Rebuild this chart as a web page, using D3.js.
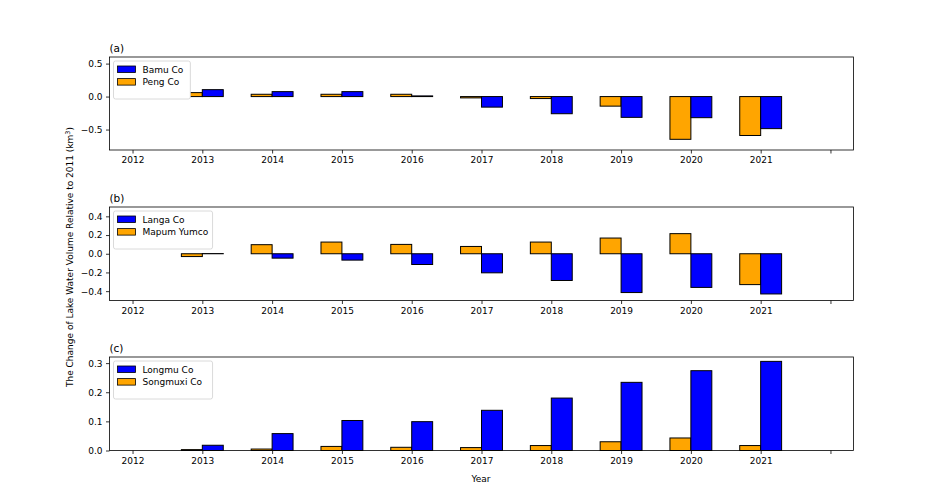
<!DOCTYPE html>
<html>
<head>
<meta charset="utf-8">
<script src="https://cdn.jsdelivr.net/npm/d3@7"></script>
<style>
  body { margin: 0; background: #fff; }
  text { font-family: "DejaVu Sans", sans-serif; }
</style>
</head>
<body>
<svg id="chart" width="927" height="494"></svg>
<script>
var years = [2013, 2014, 2015, 2016, 2017, 2018, 2019, 2020, 2021];
var tickYears = [2012, 2013, 2014, 2015, 2016, 2017, 2018, 2019, 2020, 2021, 2022];
var tickLabels = ['2012', '2013', '2014', '2015', '2016', '2017', '2018', '2019', '2020', '2021', ''];

// (a)
var bamuCo = [0.105, 0.075, 0.075, 0.01, -0.16, -0.26, -0.315, -0.32, -0.486];
var pengCo = [0.06, 0.035, 0.035, 0.035, -0.02, -0.03, -0.145, -0.648, -0.59];
// (b)
var langaCo = [0.002, -0.047, -0.068, -0.115, -0.204, -0.286, -0.415, -0.36, -0.43];
var mapumYumco = [-0.03, 0.097, 0.125, 0.1, 0.078, 0.125, 0.168, 0.215, -0.33];
// (c)
var longmuCo = [0.018, 0.058, 0.103, 0.099, 0.138, 0.18, 0.234, 0.274, 0.306];
var songmuxiCo = [0.003, 0.005, 0.014, 0.011, 0.01, 0.017, 0.03, 0.043, 0.017];

var panels = [
  { label: '(a)', top: 57, bottom: 150, domain: [-0.81, 0.6], ticks: [-0.5, 0, 0.5],
    blue: bamuCo, orange: pengCo, blueName: 'Bamu Co', orangeName: 'Peng Co' },
  { label: '(b)', top: 207, bottom: 300.5, domain: [-0.5, 0.5], ticks: [-0.4, -0.2, 0, 0.2, 0.4],
    blue: langaCo, orange: mapumYumco, blueName: 'Langa Co', orangeName: 'Mapum Yumco' },
  { label: '(c)', top: 357, bottom: 450.5, domain: [0, 0.321], ticks: [0, 0.1, 0.2, 0.3],
    blue: longmuCo, orange: songmuxiCo, blueName: 'Longmu Co', orangeName: 'Songmuxi Co' }
];

var svg = d3.select('#chart');
var left = 109.5, right = 853.5;
var barW = 0.3;
var fs = 9;

var x = d3.scaleLinear().domain([2011.67, 2022.33]).range([left, right]);

panels.forEach(function(p) {
  var y = d3.scaleLinear().domain(p.domain).range([p.bottom, p.top]);
  var g = svg.append('g');

  // orange bars (left of tick)
  g.selectAll('rect.orange')
    .data(p.orange)
    .enter().append('rect')
      .attr('x', function(d, i) { return x(years[i] - barW); })
      .attr('width', x(barW) - x(0))
      .attr('y', function(d) { return Math.min(y(d), y(0)); })
      .attr('height', function(d) { return Math.abs(y(d) - y(0)); })
      .attr('fill', 'orange')
      .attr('stroke', '#000')
      .attr('stroke-width', 1);

  // blue bars (right of tick)
  g.selectAll('rect.blue')
    .data(p.blue)
    .enter().append('rect')
      .attr('x', function(d, i) { return x(years[i]); })
      .attr('width', x(barW) - x(0))
      .attr('y', function(d) { return Math.min(y(d), y(0)); })
      .attr('height', function(d) { return Math.abs(y(d) - y(0)); })
      .attr('fill', 'blue')
      .attr('stroke', '#000')
      .attr('stroke-width', 1);

  // frame
  g.append('rect')
    .attr('x', left).attr('y', p.top)
    .attr('width', right - left).attr('height', p.bottom - p.top)
    .attr('fill', 'none').attr('stroke', '#000').attr('stroke-width', 0.8);

  // x axis
  var xAxis = d3.axisBottom(x)
    .tickValues(tickYears)
    .tickFormat(function(d, i) { return tickLabels[i]; })
    .tickSize(3.5).tickPadding(3.5);
  var xg = g.append('g').attr('transform', 'translate(0,' + p.bottom + ')').call(xAxis);
  xg.select('.domain').remove();
  xg.selectAll('text').attr('font-size', fs).attr('font-family', 'DejaVu Sans').attr('fill', '#000');
  xg.selectAll('line').attr('stroke-width', 0.8);

  // y axis
  var yAxis = d3.axisLeft(y).tickValues(p.ticks).tickFormat(d3.format('.1f'))
    .tickSize(3.5).tickPadding(3.5);
  var yg = g.append('g').attr('transform', 'translate(' + left + ',0)').call(yAxis);
  yg.select('.domain').remove();
  yg.selectAll('text').attr('font-size', fs).attr('font-family', 'DejaVu Sans').attr('fill', '#000');
  yg.selectAll('line').attr('stroke-width', 0.8);

  // panel label
  g.append('text').attr('x', left).attr('y', p.top - 5)
    .attr('font-size', 10.5).text(p.label);

  // legend
  var lg = g.append('g').attr('transform', 'translate(' + (left + 4) + ',' + (p.top + 4) + ')');
  var names = [p.blueName, p.orangeName];
  var cols = ['blue', 'orange'];
  var lw = d3.max(names, function(n) { return n.length; }) * 5.55 + 38;
  lg.append('rect').attr('width', lw).attr('height', 38)
    .attr('rx', 2).attr('fill', '#fff').attr('stroke', '#d0d0d0').attr('stroke-width', 0.8);
  names.forEach(function(n, i) {
    lg.append('rect').attr('x', 4).attr('y', 5 + i * 12.6)
      .attr('width', 18).attr('height', 6.5)
      .attr('fill', cols[i]).attr('stroke', '#000').attr('stroke-width', 0.8);
    lg.append('text').attr('x', 29).attr('y', 11.5 + i * 12.6)
      .attr('font-size', fs).text(n);
  });
});

// axis titles
svg.append('text')
  .attr('transform', 'translate(73,257) rotate(-90)')
  .attr('text-anchor', 'middle')
  .attr('font-size', fs)
  .html('The Change of Lake Water Volume Relative to 2011 (km<tspan dy="-3" font-size="6.5">3</tspan><tspan dy="3">)</tspan>');

svg.append('text')
  .attr('x', 481).attr('y', 482)
  .attr('text-anchor', 'middle')
  .attr('font-size', fs)
  .text('Year');
</script>
</body>
</html>
